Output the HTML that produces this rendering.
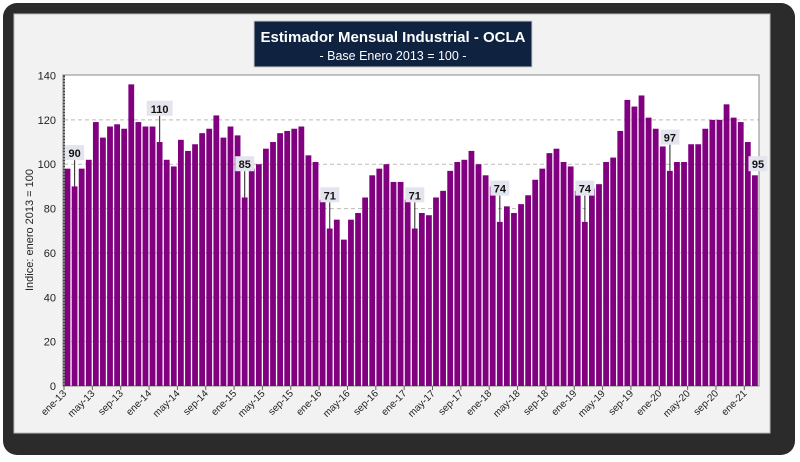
<!DOCTYPE html>
<html><head><meta charset="utf-8"><style>
body{margin:0;background:#fff;}
svg{display:block;font-family:"Liberation Sans",sans-serif;}
</style></head><body>
<svg id="chart" width="800" height="462" viewBox="0 0 800 462" xmlns="http://www.w3.org/2000/svg">
<rect x="3" y="3" width="792" height="452" rx="14" fill="#2b2b2b"/>
<rect x="14" y="14" width="756" height="419" fill="#f2f2f2" stroke="#bbb"/>
<rect x="254" y="21" width="278" height="46" fill="#0f2341" stroke="#ccc" stroke-width="1"/>
<text x="393" y="42" text-anchor="middle" fill="#fff" font-size="15" font-weight="bold">Estimador Mensual Industrial - OCLA</text>
<text x="393" y="60" text-anchor="middle" fill="#fff" font-size="12.5">- Base Enero 2013 = 100 -</text>
<rect x="63" y="75" width="696" height="311" fill="#fff" stroke="#888"/>
<text transform="translate(33,230) rotate(-90)" text-anchor="middle" font-size="11" fill="#222">Indice: enero 2013 = 100</text>
<g id="grid"></g><g id="bars"></g><g id="labels"></g><g id="axes"></g>
</svg>
<script>
const values=[98,90,98,102,119,112,117,118,116,136,119,117,117,110,102,99,111,106,109,114,116,122,112,117,113,85,98,100,107,110,114,115,116,117,104,101,84,71,75,66,75,78,85,95,98,100,92,92,84,71,78,77,85,88,97,101,102,106,100,95,90,74,81,78,82,86,93,98,105,107,101,99,88,74,89,91,101,103,115,129,126,131,121,116,108,97,101,101,109,109,116,120,120,127,121,119,110,95];
const tickLabels=["ene-13","may-13","sep-13","ene-14","may-14","sep-14","ene-15","may-15","sep-15","ene-16","may-16","sep-16","ene-17","may-17","sep-17","ene-18","may-18","sep-18","ene-19","may-19","sep-19","ene-20","may-20","sep-20","ene-21"];
const yTicks=[0,20,40,60,80,100,120,140];
const labelIdx=[1,13,25,37,49,61,73,85,97];
const NS="http://www.w3.org/2000/svg";
const X0=64,X1=758.5,Y0=386,Y1=75.5,YMAX=140;
const bw=(X1-X0)/values.length;
const y=v=>Y0-(v/YMAX)*(Y0-Y1);
const xL=i=>X0+i*bw;
function mk(t,a,p){const e=document.createElementNS(NS,t);for(const k in a)e.setAttribute(k,a[k]);p.appendChild(e);return e;}
const grid=document.getElementById('grid'),bars=document.getElementById('bars'),labels=document.getElementById('labels'),axes=document.getElementById('axes');
yTicks.forEach(v=>{
  if(v>0&&v<YMAX){const g=mk('line',{x1:X0,x2:X1,y1:y(v),y2:y(v),stroke:'#bbb','stroke-dasharray':'4,3'},grid);
  
  }
  const t=mk('text',{x:56,y:y(v)+4,'text-anchor':'end','font-size':'11',fill:'#222'},axes);t.textContent=v;
  
  
});
values.forEach((v,i)=>{
  const r=mk('rect',{x:xL(i)+0.6,y:y(v),width:bw-1.3,height:Y0-y(v),fill:'#800080'},bars);
  
  
});
tickLabels.forEach((s,k)=>{
  const xt=xL(k*4);
  mk('line',{x1:xt,x2:xt,y1:Y0,y2:Y0+4,stroke:'#666'},axes);
  const t=mk('text',{transform:`translate(${xt+3},${Y0+8}) rotate(-45)`,'text-anchor':'end','font-size':'10',fill:'#222'},axes);
  t.textContent=s;
  
  
});
mk('line',{x1:X0,x2:X0,y1:Y1,y2:Y0,stroke:'#444','stroke-width':2,'stroke-dasharray':'2,1'},axes);
labelIdx.forEach((i,k)=>{
  const v=values[i],cx=xL(i)+bw/2,last=k===labelIdx.length-1;
  const cy=last?y(v+5):y(v+15);
  if(!last){const l=mk('line',{x1:cx,x2:cx,y1:cy+7,y2:y(v),stroke:'#222','stroke-width':1},labels);
  
  }
  const w=String(v).length*7+5;
  const b=mk('rect',{x:cx-w/2+(last?3:0),y:cy-8,width:w,height:15,fill:'#e4e4ee'},labels);
  
  
  const t=mk('text',{x:cx+(last?3:0),y:cy+4,'text-anchor':'middle','font-size':'11','font-weight':'bold',fill:'#111'},labels);
  t.textContent=v;
  
  
});
</script>
</body></html>
